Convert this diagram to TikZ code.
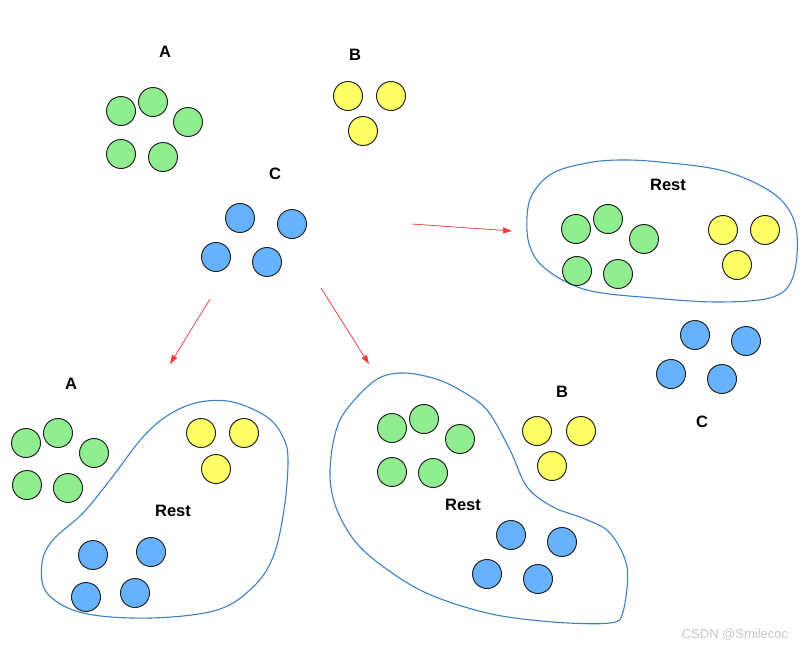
\documentclass[tikz,border=0pt]{standalone}
\usepackage{fontspec}
\setmainfont{Liberation Sans}
\usetikzlibrary{arrows.meta}
\definecolor{setgreen}{RGB}{144,238,144}
\definecolor{setyellow}{RGB}{255,255,102}
\definecolor{setblue}{RGB}{102,178,255}
\definecolor{hullblue}{RGB}{60,128,196}
\definecolor{moved}{RGB}{240,60,60}

\begin{document}
\begin{tikzpicture}[x=1pt, y=-1pt, >={Triangle[length=9pt, width=6pt]},
  ball/.style={circle, draw=black!85, line width=1pt, minimum size=29pt, inner sep=0pt},
  gb/.style={ball, fill=setgreen},
  yb/.style={ball, fill=setyellow},
  bb/.style={ball, fill=setblue},
  lbl/.style={font=\fontsize{16.5}{18}\selectfont\bfseries},
  hull/.style={draw=hullblue, line width=1.1pt},
  mv/.style={->, draw=moved, fill=moved, line width=0.7pt}]
\useasboundingbox (0,0) rectangle (809,651);

%% ===================== original sets =====================
\node[lbl] (labA) at (165,52) {A};
\foreach \n/\p in {1/{121,111}, 2/{153,102}, 3/{188,122}, 4/{121,154}, 5/{163,157}}
  \node[gb] (a\n) at (\p) {};

\node[lbl] (labB) at (355,55) {B};
\foreach \n/\p in {1/{348,96}, 2/{391,96}, 3/{363,131}}
  \node[yb] (b\n) at (\p) {};

\node[lbl] (labC) at (275,174) {C};
\foreach \n/\p in {1/{240,218}, 2/{292,224}, 3/{216,257}, 4/{267,262}}
  \node[bb] (c\n) at (\p) {};

%% ===================== moves =====================
\coordinate (mAs) at (210,299); \coordinate (mAe) at (170,364);
\coordinate (mBs) at (321,288); \coordinate (mBe) at (369,364);
\coordinate (mCs) at (412,224); \coordinate (mCe) at (512,231);
\draw[mv] (mAs) -- (mAe);
\draw[mv] (mBs) -- (mBe);
\draw[mv] (mCs) -- (mCe);

%% ===================== A vs rest =====================
\node[lbl] (labA2) at (71,384) {A};
\foreach \n/\p in {1/{26,443}, 2/{58,433}, 3/{94,453}, 4/{27,485}, 5/{68,488}}
  \node[gb] (la\n) at (\p) {};
\draw[hull] plot[smooth cycle, tension=0.6] coordinates {
  (200,402) (233,402) (267,417) (283,437) (288,460) (284,510) (273,557)
  (253,587) (217,610) (150,618) (83,613) (47,593) (42,563) (53,540)
  (83,513) (110,480) (143,437) (170,414)};
\node[lbl] (restA) at (173,511) {Rest};
\foreach \n/\p in {1/{201,433}, 2/{244,433}, 3/{216,469}}
  \node[yb] (lb\n) at (\p) {};
\foreach \n/\p in {1/{93,555}, 2/{151,552}, 3/{86,597}, 4/{135,593}}
  \node[bb] (lc\n) at (\p) {};

%% ===================== B vs rest =====================
\draw[hull] plot[smooth cycle, tension=0.55] coordinates {
  (400,373) (433,378) (460,390) (487,410) (510,450) (527,487) (553,507)
  (585,519) (610,533) (627,567) (623,612) (610,623) (553,622) (487,613)
  (420,590) (363,550) (337,510) (330,470) (340,420) (373,382)};
\node[lbl] (restB) at (463,505) {Rest};
\foreach \n/\p in {1/{392,428}, 2/{424,419}, 3/{460,439}, 4/{392,472}, 5/{433,473}}
  \node[gb] (ma\n) at (\p) {};
\node[lbl] (labB2) at (562,392) {B};
\foreach \n/\p in {1/{537,431}, 2/{581,431}, 3/{552,466}}
  \node[yb] (mb\n) at (\p) {};
\foreach \n/\p in {1/{511,535}, 2/{562,542}, 3/{487,574}, 4/{538,579}}
  \node[bb] (mc\n) at (\p) {};

%% ===================== C vs rest =====================
\draw[hull] plot[smooth cycle, tension=0.6] coordinates {
  (620,160) (660,162) (720,170) (763,187) (787,207) (797,235) (793,277)
  (773,297) (720,302) (653,298) (587,290) (547,270) (530,247) (527,217)
  (533,193) (553,173) (587,163)};
\node[lbl] (restC) at (668,185) {Rest};
\foreach \n/\p in {1/{576,229}, 2/{608,219}, 3/{644,239}, 4/{577,271}, 5/{618,274}}
  \node[gb] (ra\n) at (\p) {};
\foreach \n/\p in {1/{723,230}, 2/{765,230}, 3/{737,265}}
  \node[yb] (rb\n) at (\p) {};
\foreach \n/\p in {1/{695,335}, 2/{746,341}, 3/{671,374}, 4/{722,379}}
  \node[bb] (rc\n) at (\p) {};
\node[lbl] (labC2) at (702,422) {C};

\node[text=black!22, font=\fontsize{13}{15}\selectfont] (mark) at (735,635) {CSDN @Smilecoc};
\end{tikzpicture}
\end{document}
